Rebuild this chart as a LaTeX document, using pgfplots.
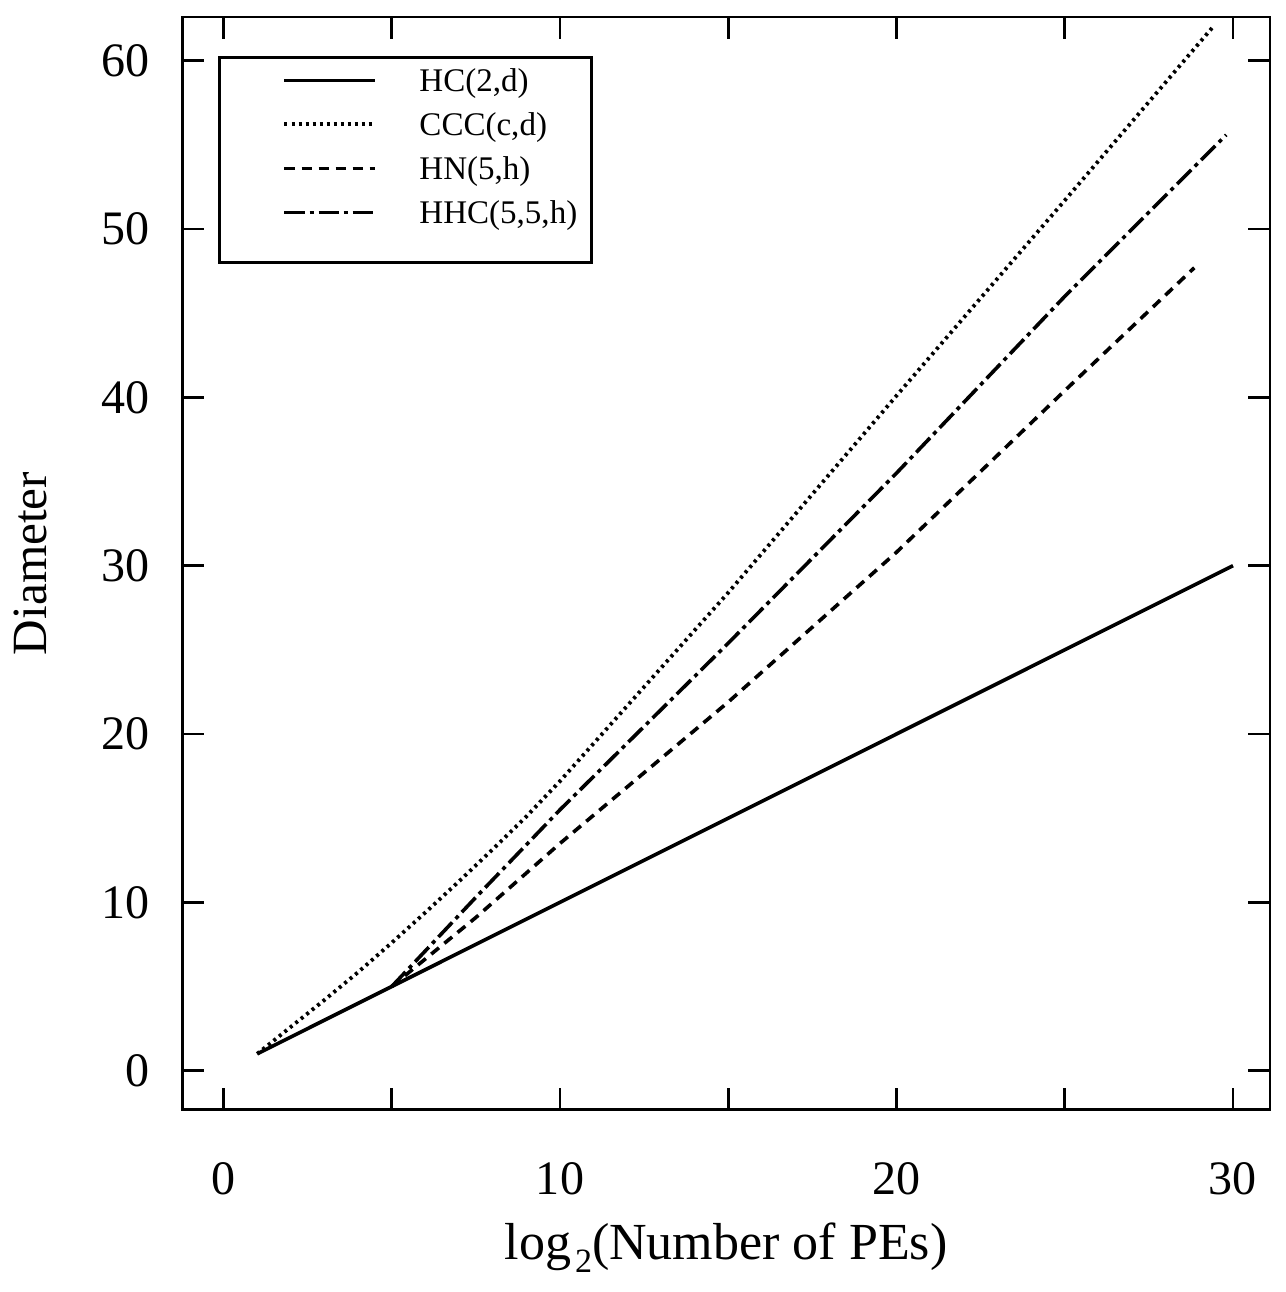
\documentclass[border=0pt]{standalone}
\usepackage{fontspec}
\setmainfont{Liberation Serif}
\usepackage{pgfplots}
\pgfplotsset{compat=1.18}
\begin{document}
\begin{tikzpicture}
\begin{axis}[
 name=ax,
 scale only axis, width=543.5pt, height=546pt,
 xmin=-1.23, xmax=31.1, ymin=-2.33, ymax=62.6,
 axis line style={line width=1.4pt},
 tick style={line width=1.4pt, black},
 tick align=inside,
 major tick length=11pt, minor tick length=11pt,
 xtick={0,10,20,30}, minor xtick={5,15,25},
 ytick={0,10,...,60},
 every tick label/.append style={font=\fontsize{24}{28}\selectfont},
 /pgf/number format/assume math mode=true,
 xticklabel style={yshift=-23pt},
 yticklabel style={xshift=-13pt},
 xlabel={log\hspace{2pt}\raisebox{-6.5pt}{\fontsize{17}{17}\selectfont 2}(Number of PEs)},
 xlabel style={at={(axis description cs:0.5,0)}, anchor=base, yshift=-75pt, font=\fontsize{26}{30}\selectfont},
 ylabel={Diameter},
 ylabel style={at={(axis description cs:-0.139,0.5)}, anchor=center, font=\fontsize{24.6}{29}\selectfont},
 legend style={at={(axis description cs:0.0331,0.9643)}, anchor=north west, draw=black, line width=1.3pt, fill=white,
   inner xsep=0pt, inner ysep=7.25pt, column sep=21.5pt, row sep=0pt,
   font=\fontsize{16.5}{20}\selectfont, cells={anchor=base west},
   nodes={inner sep=0pt, text height=10pt, text depth=12pt, text width=86pt}},
 legend image code/.code={\pgfpathmoveto{\pgfpoint{-32.5pt}{0pt}}\pgfpathlineto{\pgfpoint{45pt}{0pt}}\pgfusepath{discard}\draw[#1] (0pt,5.75pt) -- (45pt,5.75pt);},
]
\addplot[line width=1.8pt] coordinates {(1,1) (30,30)};
\addlegendentry{HC(2,d)}
\addplot[line width=1.9pt, dash pattern=on 1.5pt off 2pt] coordinates {(1,1) (2,2.6) (3,4.2) (4,5.85) (5,7.6) (6,9.4) (7,11.25) (8,13.15) (9,15.1) (10,17.2) (12.5,22.8) (15,28.4) (20,40.1) (25,51.7) (29.4,62.0)};
\addlegendentry{CCC(c,d)}
\addplot[line width=1.8pt, dash pattern=on 5pt off 3.5pt] coordinates {(5,5) (7.5,9.1) (10,13.5) (15,21.9) (20,30.8) (25,40.4) (28.85,47.7)};
\addlegendentry{HN(5,h)}
\addplot[line width=1.8pt, dash pattern=on 10pt off 2.5pt on 2pt off 2.5pt] coordinates {(5,5) (7.5,10.3) (10,15.5) (15,25.4) (20,35.5) (25,46.0) (29.8,55.6)};
\addlegendentry{HHC(5,5,h)}
\end{axis}
\path (ax.south west) ++(-91pt,-91pt) (ax.north east) ++(8pt,8.5pt);
\end{tikzpicture}
\end{document}
